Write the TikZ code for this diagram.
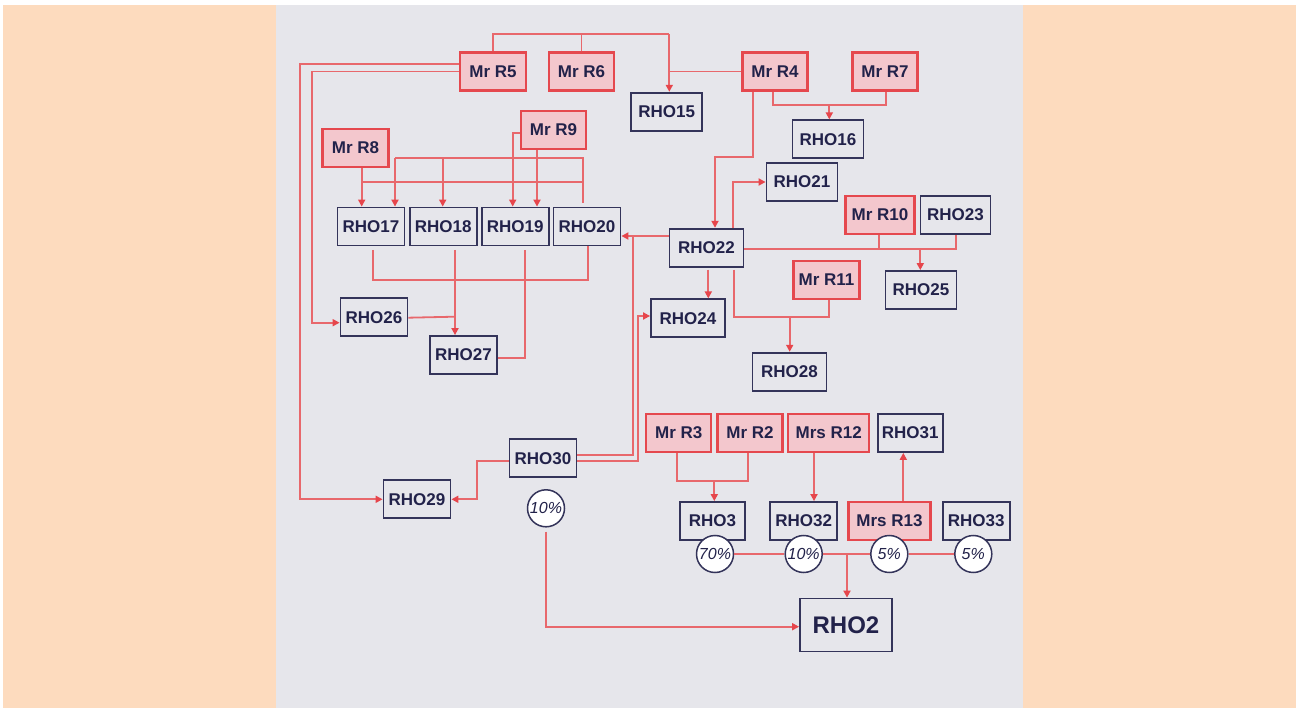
\documentclass[tikz,border=0pt]{standalone}
\usepackage{fontspec}
\setmainfont{Liberation Sans}
\usetikzlibrary{arrows.meta}
\definecolor{peach}{HTML}{FDDBBE}
\definecolor{panel}{HTML}{E6E6EB}
\definecolor{navy}{HTML}{34345A}
\definecolor{txt}{HTML}{22224A}
\definecolor{rline}{HTML}{E8686C}
\definecolor{rtip}{HTML}{E6464C}
\definecolor{rfill}{HTML}{F3C7CD}
\definecolor{rborder}{HTML}{E5484E}
\begin{document}
\begin{tikzpicture}[x=1pt,y=-1pt,
  base/.style={draw, inner sep=0pt, minimum height=38pt, font=\fontsize{17}{17}\selectfont\bfseries, text=txt},
  nbox/.style={base, draw=navy, line width=1.8pt, fill=panel},
  rbox/.style={base, draw=rborder, line width=2.3pt, fill=rfill},
  pct/.style={circle, draw=navy, line width=1.5pt, fill=white, inner sep=0pt, minimum size=37pt, font=\fontsize{16}{16}\selectfont\itshape, text=txt},
  ln/.style={draw=rline, line width=1.8pt},
  arr/.style={ln, -{Triangle[length=7pt,width=7pt,color=rtip]}},
]
\useasboundingbox (0,0) rectangle (1296,708);
\fill[white] (0,0) rectangle (1296,708);
\fill[peach] (3,5) rectangle (1296,708);
\fill[panel] (276,5) rectangle (1023,708);

% top row
\node[rbox, minimum width=66pt] (R5) at (493,71.5) {Mr R5};
\node[rbox, minimum width=65pt] (R6) at (581.5,71.5) {Mr R6};
\node[rbox, minimum width=65pt] (R4) at (775,71.5) {Mr R4};
\node[rbox, minimum width=65pt] (R7) at (885,71.5) {Mr R7};
\node[nbox, minimum width=71pt] (RHO15) at (666.7,111.7) {RHO15};
\node[nbox, minimum width=71pt] (RHO16) at (828,139.3) {RHO16};
\node[rbox, minimum width=65pt] (R9) at (553.5,130) {Mr R9};
\node[rbox, minimum width=66pt] (R8) at (355.5,148) {Mr R8};
\node[nbox, minimum width=67pt] (RHO17) at (371,226.5) {RHO17};
\node[nbox, minimum width=67pt] (RHO18) at (443.2,226.5) {RHO18};
\node[nbox, minimum width=67pt] (RHO19) at (515.2,226.5) {RHO19};
\node[nbox, minimum width=67pt] (RHO20) at (587,226.5) {RHO20};
\node[nbox, minimum width=71pt] (RHO21) at (802,182) {RHO21};
\node[rbox, minimum width=69pt] (R10) at (880,215) {Mr R10};
\node[nbox, minimum width=70pt] (RHO23) at (955.5,215) {RHO23};
\node[nbox, minimum width=74pt] (RHO22) at (706.5,247.7) {RHO22};
\node[nbox, minimum width=71pt] (RHO25) at (921,290) {RHO25};
\node[rbox, minimum width=66pt] (R11) at (826.5,280) {Mr R11};
\node[nbox, minimum width=74pt] (RHO24) at (688,318.3) {RHO24};
\node[nbox, minimum width=67pt] (RHO26) at (374,317.2) {RHO26};
\node[nbox, minimum width=67pt] (RHO27) at (463.5,355) {RHO27};
\node[nbox, minimum width=74pt] (RHO28) at (789.5,371.7) {RHO28};
% lower part
\node[rbox, minimum width=65pt] (R3) at (678.7,433) {Mr R3};
\node[rbox, minimum width=65pt] (R2) at (750,433) {Mr R2};
\node[rbox, minimum width=81pt] (R12) at (828.7,433) {Mrs R12};
\node[nbox, minimum width=65pt] (RHO31) at (910.2,433) {RHO31};
\node[nbox, minimum width=67pt] (RHO30) at (543,458.3) {RHO30};
\node[nbox, minimum width=67pt] (RHO29) at (417,499.3) {RHO29};
\node[nbox, minimum width=65pt] (RHO3) at (712.5,521) {RHO3};
\node[nbox, minimum width=67pt] (RHO32) at (803.7,521) {RHO32};
\node[rbox, minimum width=82pt] (R13) at (889.5,521) {Mrs R13};
\node[nbox, minimum width=67pt] (RHO33) at (976.2,521) {RHO33};
\node[nbox, minimum width=92pt, minimum height=53pt, font=\fontsize{24}{24}\selectfont\bfseries] (RHO2) at (846,625) {RHO2};
\node[pct] (c10a) at (546,508.3) {10\%};
\node[pct] (c70) at (715,554) {70\%};
\node[pct] (c10b) at (803.7,554) {10\%};
\node[pct] (c5a) at (889.3,554) {5\%};
\node[pct] (c5b) at (973.3,554) {5\%};

% junction coordinates
\coordinate (j15) at (669.3,34.3);
\coordinate (j16) at (829.3,105.3);
\coordinate (e22) at (715,157.3);
\coordinate (j20) at (583.3,158.3);
\coordinate (j81) at (583.3,181.7);
\coordinate (jbot) at (455,316.7);
\coordinate (j28) at (789.7,316.7);
\coordinate (j25) at (920.3,249.3);
\coordinate (j3) at (714.3,481.3);
\coordinate (jR2) at (847,554);

% Mr R5 / Mr R6 / Mr R4 -> RHO15
\draw[ln] (R5.north) |- (j15);
\draw[ln] (R6.north) -- (R6.north |- j15);
\draw[ln] (R4.west) -- (R4.west -| j15);
\draw[arr] (j15) -- (j15 |- RHO15.north);
% Mr R4 / Mr R7 -> RHO16
\draw[ln] ([xshift=-1.7pt]R4.south) |- (j16) -| ([xshift=1.3pt]R7.south);
\draw[arr] (j16) -- (j16 |- RHO16.north);
% Mr R4 -> RHO22
\draw[arr] ([xshift=-21.7pt]R4.south) |- (e22) -- (e22 |- RHO22.north);
% Mr R5 -> RHO29, RHO26
\draw[arr] ([yshift=7.8pt]R5.west) -| (300,499.3) -- (RHO29.west);
\draw[arr] (R5.west) -| (311.7,322.7) -- ([yshift=-5.5pt]RHO26.west);
% Mr R8 -> RHO17 and links
\draw[arr] ([xshift=6.2pt]R8.south) -- ([xshift=-9.3pt]RHO17.north);
\draw[ln] (j81 -| R8.south) ++(6.2,0) -- (j81);
\draw[ln, shorten <=4pt] ([xshift=-3.7pt]RHO20.north) -- (j20) -- (395,158.3);
\draw[arr] (395,158.3) -- ([xshift=24pt]RHO17.north);
\draw[arr] (442.7,158.3) -- ([xshift=-0.5pt]RHO18.north);
% Mr R9 -> RHO19
\draw[arr] ([yshift=-2.7pt]R9.west) -| ([xshift=-2.5pt]RHO19.north);
\draw[arr] ([xshift=-16.5pt]R9.south) -- ([xshift=21.8pt]RHO19.north);
% bottom of RHO17..RHO20
\draw[ln, shorten <=3.5pt] ([xshift=1.7pt]RHO17.south) |- (587.7,280.3) -- ([xshift=0.7pt]RHO20.south);
\draw[arr, shorten <=3.5pt] ([xshift=11.8pt]RHO18.south) -- ([xshift=-8.5pt]RHO27.north);
\draw[ln] ([yshift=-0.5pt]RHO26.east) -- (jbot);
\draw[ln, shorten >=3.5pt] ([yshift=-2.7pt]RHO27.east) -| ([xshift=9.8pt]RHO19.south);
% RHO22 links
\draw[arr] ([xshift=26.2pt]RHO22.north) |- (RHO21.west);
\path ([yshift=11.7pt]RHO22.west) coordinate (s22w);
\draw[arr] (s22w) -- (s22w -| RHO20.east);
\draw[arr, shorten <=2pt] ([xshift=1.8pt]RHO22.south) -- ([xshift=20.3pt]RHO24.north);
\draw[ln, shorten <=2pt] ([xshift=27.2pt]RHO22.south) |- (829,316.7) -- ([xshift=2.5pt]R11.south);
\draw[arr] (j28) -- (j28 |- RHO28.north);
\draw[ln] ([yshift=-1.6pt]RHO22.east) -| ([xshift=0.5pt]RHO23.south);
\draw[ln] ([xshift=-1pt]R10.south) -- (879,249.3);
\draw[arr] (j25) -- (j25 |- RHO25.north);
% RHO30 links
\draw[ln] ([yshift=3.3pt]RHO30.east) -| (633.3,236);
\draw[arr] ([yshift=-2.7pt]RHO30.east) -| (638.3,316) -- ([yshift=2.3pt]RHO24.west);
\draw[arr] ([yshift=-2.7pt]RHO30.west) -| (477.3,499.3) -- (RHO29.east);
% lower
\draw[ln] ([xshift=-1.4pt]R3.south) |- (748,481.3) -- ([xshift=-2pt]R2.south);
\draw[arr] (j3) -- (j3 |- RHO3.north);
\draw[arr] ([xshift=-14.7pt]R12.south) -- ([xshift=10.3pt]RHO32.north);
\draw[arr] ([xshift=13.8pt]R13.north) -- ([xshift=-6.9pt]RHO31.south);
\draw[ln] (c70.east) -- (c10b.west);
\draw[ln] (c10b.east) -- (c5a.west);
\draw[ln] (c5a.east) -- (c5b.west);
\draw[arr] (jR2) -- (jR2 |- RHO2.north);
\draw[arr, shorten <=4pt] (c10a.south) |- ([yshift=-1.7pt]RHO2.west);
\end{tikzpicture}
\end{document}
